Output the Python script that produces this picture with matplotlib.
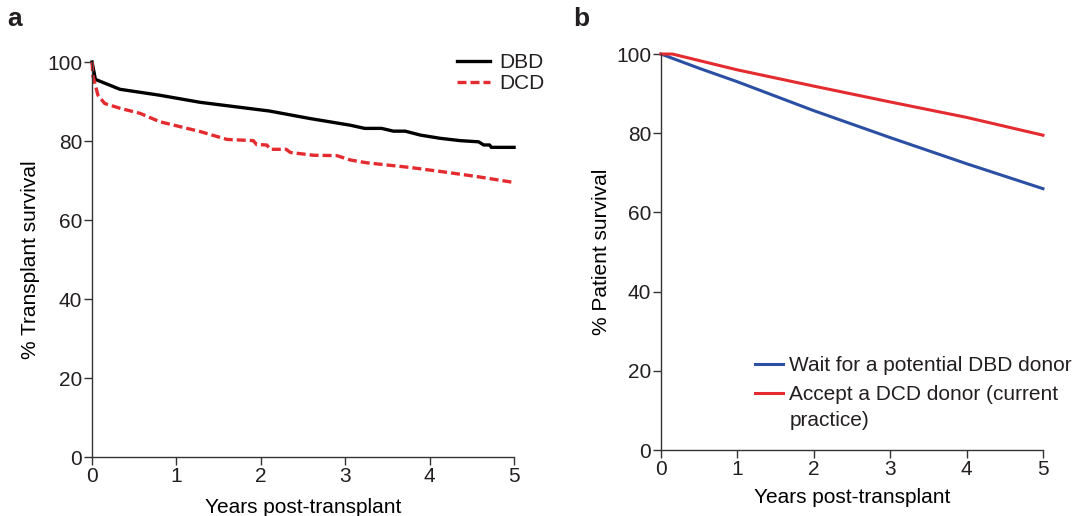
import matplotlib.pyplot as plt

plt.rcParams['font.family'] = ['Liberation Sans', 'DejaVu Sans']

# panel a: transplant survival (Kaplan-Meier)
dbd_t = [0, 0.04, 0.33, 0.8, 1.28, 2.1, 2.58, 3.06, 3.23, 3.43, 3.57, 3.71, 3.89,
         4.12, 4.24, 4.36, 4.58, 4.64, 4.71, 4.73, 5.0]
dbd_s = [100, 95.6, 93.1, 91.6, 89.8, 87.6, 85.7, 84.0, 83.2, 83.2, 82.5, 82.5, 81.5,
         80.7, 80.4, 80.1, 79.8, 79.0, 79.0, 78.4, 78.4]
dcd_t = [0, 0.01, 0.07, 0.15, 0.33, 0.57, 0.8, 1.28, 1.6, 1.91, 1.95, 2.07, 2.11,
         2.3, 2.35, 2.62, 2.9, 3.06, 3.25, 3.77, 4.16, 4.56, 5.0]
dcd_s = [100, 96.5, 91.6, 89.5, 88.3, 87.0, 84.9, 82.4, 80.4, 80.1, 79.1, 79.0, 77.9,
         77.9, 77.1, 76.4, 76.3, 75.2, 74.5, 73.3, 72.2, 71.0, 69.5]

# panel b: modelled patient survival
wait_t = [0, 0.5, 1, 2, 3, 4, 5]
wait_s = [100, 96.4, 93.0, 85.7, 78.9, 72.3, 66.0]
accept_t = [0, 0.15, 1, 2, 3, 4, 5]
accept_s = [100, 100, 96.0, 91.9, 87.9, 84.0, 79.5]

years = [0, 1, 2, 3, 4, 5]
pct = [0, 20, 40, 60, 80, 100]

RED = '#e42b2f'
BLUE = '#2b4fa2'
INK = '#231f20'
FS = 15

plt.rcParams['text.color'] = INK

fig = plt.figure(figsize=(10.88, 5.16), dpi=100)
ax1 = fig.add_axes([0.0846, 0.1143, 0.3879, 0.7655])
ax2 = fig.add_axes([0.6075, 0.1279, 0.3511, 0.7674])


def style(ax, ylabel, ypad, xpad):
    ax.set_xlim(0, 5)
    ax.set_ylim(0, 100)
    ax.set_xticks(years)
    ax.set_yticks(pct)
    for s in ['top', 'right']:
        ax.spines[s].set_visible(False)
    for s in ['left', 'bottom']:
        ax.spines[s].set_linewidth(1.0)
        ax.spines[s].set_color('#333333')
    ax.tick_params(direction='out', length=6, width=1.0, labelsize=FS, pad=1,
                   color='#333333', labelcolor=INK)
    ax.set_xlabel('Years post-transplant', fontsize=FS, labelpad=xpad)
    ax.set_ylabel(ylabel, fontsize=FS, labelpad=ypad)


ax1.plot(dbd_t, dbd_s, color='black', lw=2.4, label='DBD', clip_on=False)
ax1.plot(dcd_t, dcd_s, color=RED, lw=2.4, ls=(0, (2.7, 1.2)), label='DCD', clip_on=False)
style(ax1, '% Transplant survival', 5, 9)
ax1.legend(loc='upper left', bbox_to_anchor=(457 / 1088, 1 - 53 / 516),
           bbox_transform=fig.transFigure, frameon=False, fontsize=FS,
           borderpad=0, borderaxespad=0, handlelength=1.6, handletextpad=0.45,
           labelspacing=0.1)

ax2.plot(wait_t, wait_s, color=BLUE, lw=2.2, label='Wait for a potential DBD donor', clip_on=False)
ax2.plot(accept_t, accept_s, color=RED, lw=2.2, label='Accept a DCD donor (current',
         clip_on=False)
style(ax2, '% Patient survival', 4, 7)
leg = ax2.legend(loc='upper left', bbox_to_anchor=(755 / 1088, 1 - 356 / 516),
                 bbox_transform=fig.transFigure, frameon=False, fontsize=FS,
                 borderpad=0, borderaxespad=0, handlelength=1.35, handletextpad=0.3,
                 labelspacing=0.5)

# second line of the wrapped legend label sits under the first
fig.canvas.draw()
bb = leg.get_texts()[1].get_window_extent().transformed(fig.transFigure.inverted())
fig.text(bb.x0, bb.y0 - 0.050, 'practice)', fontsize=FS, va='bottom', ha='left')

fig.text(0.0064, 0.950, 'a', fontsize=19, fontweight='bold', va='baseline')
fig.text(0.527, 0.950, 'b', fontsize=19, fontweight='bold', va='baseline')

fig.savefig('out.png', dpi=100)
